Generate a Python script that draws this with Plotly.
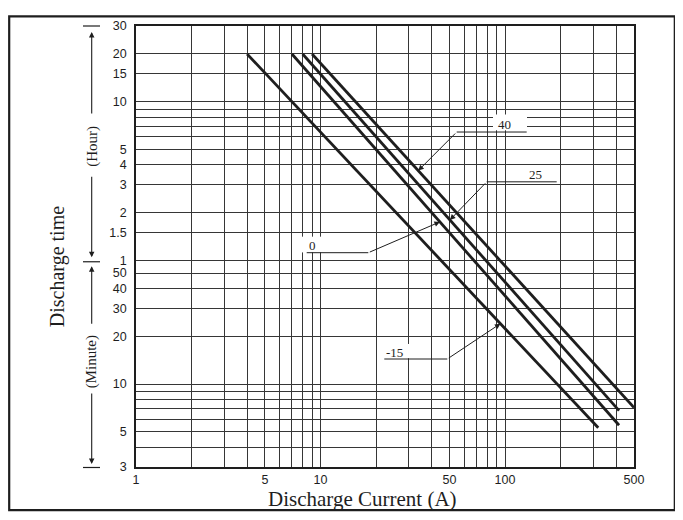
import numpy as np
import plotly.graph_objects as go

# ---- data: discharge current (A) vs discharge time (minutes), read at line ends ----
current_m15 = [4, 320]
time_m15 = [1200, 5.3]
current_0 = [7, 415]
time_0 = [1200, 5.5]
current_25 = [8, 415]
time_25 = [1200, 6.8]
current_40 = [9, 500]
time_40 = [1200, 7.1]

series_names = ["-15", "0", "25", "40"]

x_tickvals = [1, 2, 3, 4, 5, 6, 7, 8, 9, 10, 20, 30, 40, 50, 60, 70, 80, 90, 100, 200, 300, 400, 500]
x_ticktext = ["1", "", "", "", "5", "", "", "", "", "10", "", "", "", "50", "", "", "", "", "100", "", "", "", "500"]

y_tickvals = [3, 4, 5, 6, 7, 8, 9, 10, 20, 30, 40, 50, 60, 90, 120, 180, 240, 300,
              360, 420, 480, 540, 600, 900, 1200, 1800]
y_ticktext = ["3", "", "5", "", "", "", "", "10", "20", "30", "40", "50", "1", "1.5", "2", "3", "4", "5",
              "", "", "", "", "10", "15", "20", "30"]

# time (minutes) where each label's arrow touches its line
arrow_tip_time = {"-15": 24, "0": 105, "25": 108, "40": 221}

# ---- layout constants (page has an 8px body margin) ----
OFF = 8
W, H = 683 - 2 * OFF, 520 - 2 * OFF
PL, PT, PW, PH = 136, 19, 498, 448          # plot area in screen pixels
L, T = PL - OFF, PT - OFF
R, B = W - L - PW, H - T - PH
XR = [0, np.log10(500)]
YR = [np.log10(3), np.log10(1800)]
INK = "#1e1e1e"
GRID = "#363636"
SERIF = "Liberation Serif, Times New Roman, serif"
SANS = "Liberation Sans, Arial, sans-serif"


def pxp(x):
    return (x - PL) / PW


def pyp(y):
    return (PT + PH - y) / PH


def px_to_xlog(x):
    return XR[0] + pxp(x) * (XR[1] - XR[0])


def py_to_ylog(y):
    return YR[0] + pyp(y) * (YR[1] - YR[0])


series = {
    "-15": (current_m15, time_m15),
    "0": (current_0, time_0),
    "25": (current_25, time_25),
    "40": (current_40, time_40),
}

fig = go.Figure()
for name in series_names:
    cx, ty = series[name]
    fig.add_trace(go.Scatter(x=cx, y=ty, mode="lines", name=name,
                             line=dict(color=INK, width=2.8), showlegend=False,
                             hoverinfo="skip"))

shapes = []
annotations = []

# outer frame
shapes.append(dict(type="rect", xref="paper", yref="paper",
                   x0=pxp(9.2), x1=pxp(674.8), y0=pyp(510.8), y1=pyp(9.2),
                   line=dict(color=INK, width=2.2)))

# label geometry (pixel positions of the reference layout)
labels = {
    "40": dict(text=(504, 119), under=(456.7, 526.7, 126.7), box=(493, 527, 109, 125)),
    "25": dict(text=(535, 169.5), under=(486.7, 556.7, 177.3), box=None),
    "0": dict(text=(312, 242), under=(306.7, 368.3, 249.3), box=(300, 327, 233, 249)),
    "-15": dict(text=(394, 350.5), under=(384.3, 447.3, 357.3), box=(383, 411, 342, 356.5)),
}
elbow = {"40": "left", "25": "left", "0": "right", "-15": "right"}

for name, g in labels.items():
    if g["box"] is not None:
        x0, x1, y0, y1 = g["box"]
        shapes.append(dict(type="rect", xref="paper", yref="paper", layer="above",
                           x0=pxp(x0), x1=pxp(x1), y0=pyp(y1), y1=pyp(y0),
                           fillcolor="white", line=dict(width=0)))
    ux0, ux1, uy = g["under"]
    shapes.append(dict(type="line", xref="paper", yref="paper", layer="above",
                       x0=pxp(ux0), x1=pxp(ux1), y0=pyp(uy), y1=pyp(uy),
                       line=dict(color=INK, width=1)))
    tx, ty = g["text"]
    annotations.append(dict(x=pxp(tx), y=pyp(ty), xref="paper", yref="paper",
                            text=name, showarrow=False, xanchor="center", yanchor="middle",
                            font=dict(family=SERIF, size=13, color=INK)))
    # arrow from elbow of underline to the line
    ex = ux0 if elbow[name] == "left" else ux1
    cx, ctime = series[name]
    lt = np.log10(arrow_tip_time[name])
    lx = np.interp(lt, np.log10(ctime)[::-1], np.log10(cx)[::-1])
    annotations.append(dict(x=lx, y=lt, xref="x", yref="y",
                            ax=px_to_xlog(ex), ay=py_to_ylog(uy), axref="x", ayref="y",
                            text="", showarrow=True, arrowhead=2, arrowsize=1.1,
                            arrowwidth=1, arrowcolor=INK))

# Hour / Minute bracket on the left
bx = 91.7
for yy in (19, 258.5, 467.5):
    shapes.append(dict(type="line", xref="paper", yref="paper",
                       x0=pxp(83), x1=pxp(100), y0=pyp(yy), y1=pyp(yy),
                       line=dict(color=INK, width=1.2)))
for head, tail in ((25, 108), (254, 172), (263, 322), (464, 392)):
    annotations.append(dict(x=pxp(bx), y=pyp(head), xref="paper", yref="paper",
                            ax=0, ay=tail - head, axref="pixel", ayref="pixel",
                            text="", showarrow=True, arrowhead=2, arrowsize=1,
                            arrowwidth=1.1, arrowcolor=INK))
annotations.append(dict(x=pxp(bx), y=pyp(141), xref="paper", yref="paper", text="(Hour)",
                        textangle=-90, showarrow=False, xanchor="center", yanchor="middle",
                        font=dict(family=SERIF, size=15, color=INK)))
annotations.append(dict(x=pxp(bx), y=pyp(360), xref="paper", yref="paper", text="(Minute)",
                        textangle=-90, showarrow=False, xanchor="center", yanchor="middle",
                        font=dict(family=SERIF, size=15, color=INK)))
# axis titles
annotations.append(dict(x=pxp(57), y=pyp(264), xref="paper", yref="paper", text="Discharge time",
                        textangle=-90, showarrow=False, xanchor="center", yanchor="middle",
                        font=dict(family=SERIF, size=20, color=INK)))
annotations.append(dict(x=pxp(362), y=pyp(500), xref="paper", yref="paper",
                        text="Discharge Current (A)", showarrow=False,
                        xanchor="center", yanchor="middle",
                        font=dict(family=SERIF, size=21, color=INK)))

fig.update_layout(
    width=W, height=H,
    margin=dict(l=L, r=R, t=T, b=B, pad=0),
    paper_bgcolor="white", plot_bgcolor="white",
    shapes=shapes, annotations=annotations,
    xaxis=dict(type="log", range=XR, tickvals=x_tickvals, ticktext=x_ticktext,
               showgrid=True, gridcolor=GRID, gridwidth=1.3, zeroline=False,
               showline=True, linecolor=INK, linewidth=1.6, mirror=True,
               ticks="", ticklabelstandoff=0,
               tickfont=dict(family=SANS, size=12.5, color=INK)),
    yaxis=dict(type="log", range=YR, tickvals=y_tickvals, ticktext=y_ticktext,
               showgrid=True, gridcolor=GRID, gridwidth=1.3, zeroline=False,
               showline=True, linecolor=INK, linewidth=1.6, mirror=True,
               ticks="", ticklabelstandoff=5,
               tickfont=dict(family=SANS, size=12.5, color=INK)),
)

fig.write_html("out.html")
